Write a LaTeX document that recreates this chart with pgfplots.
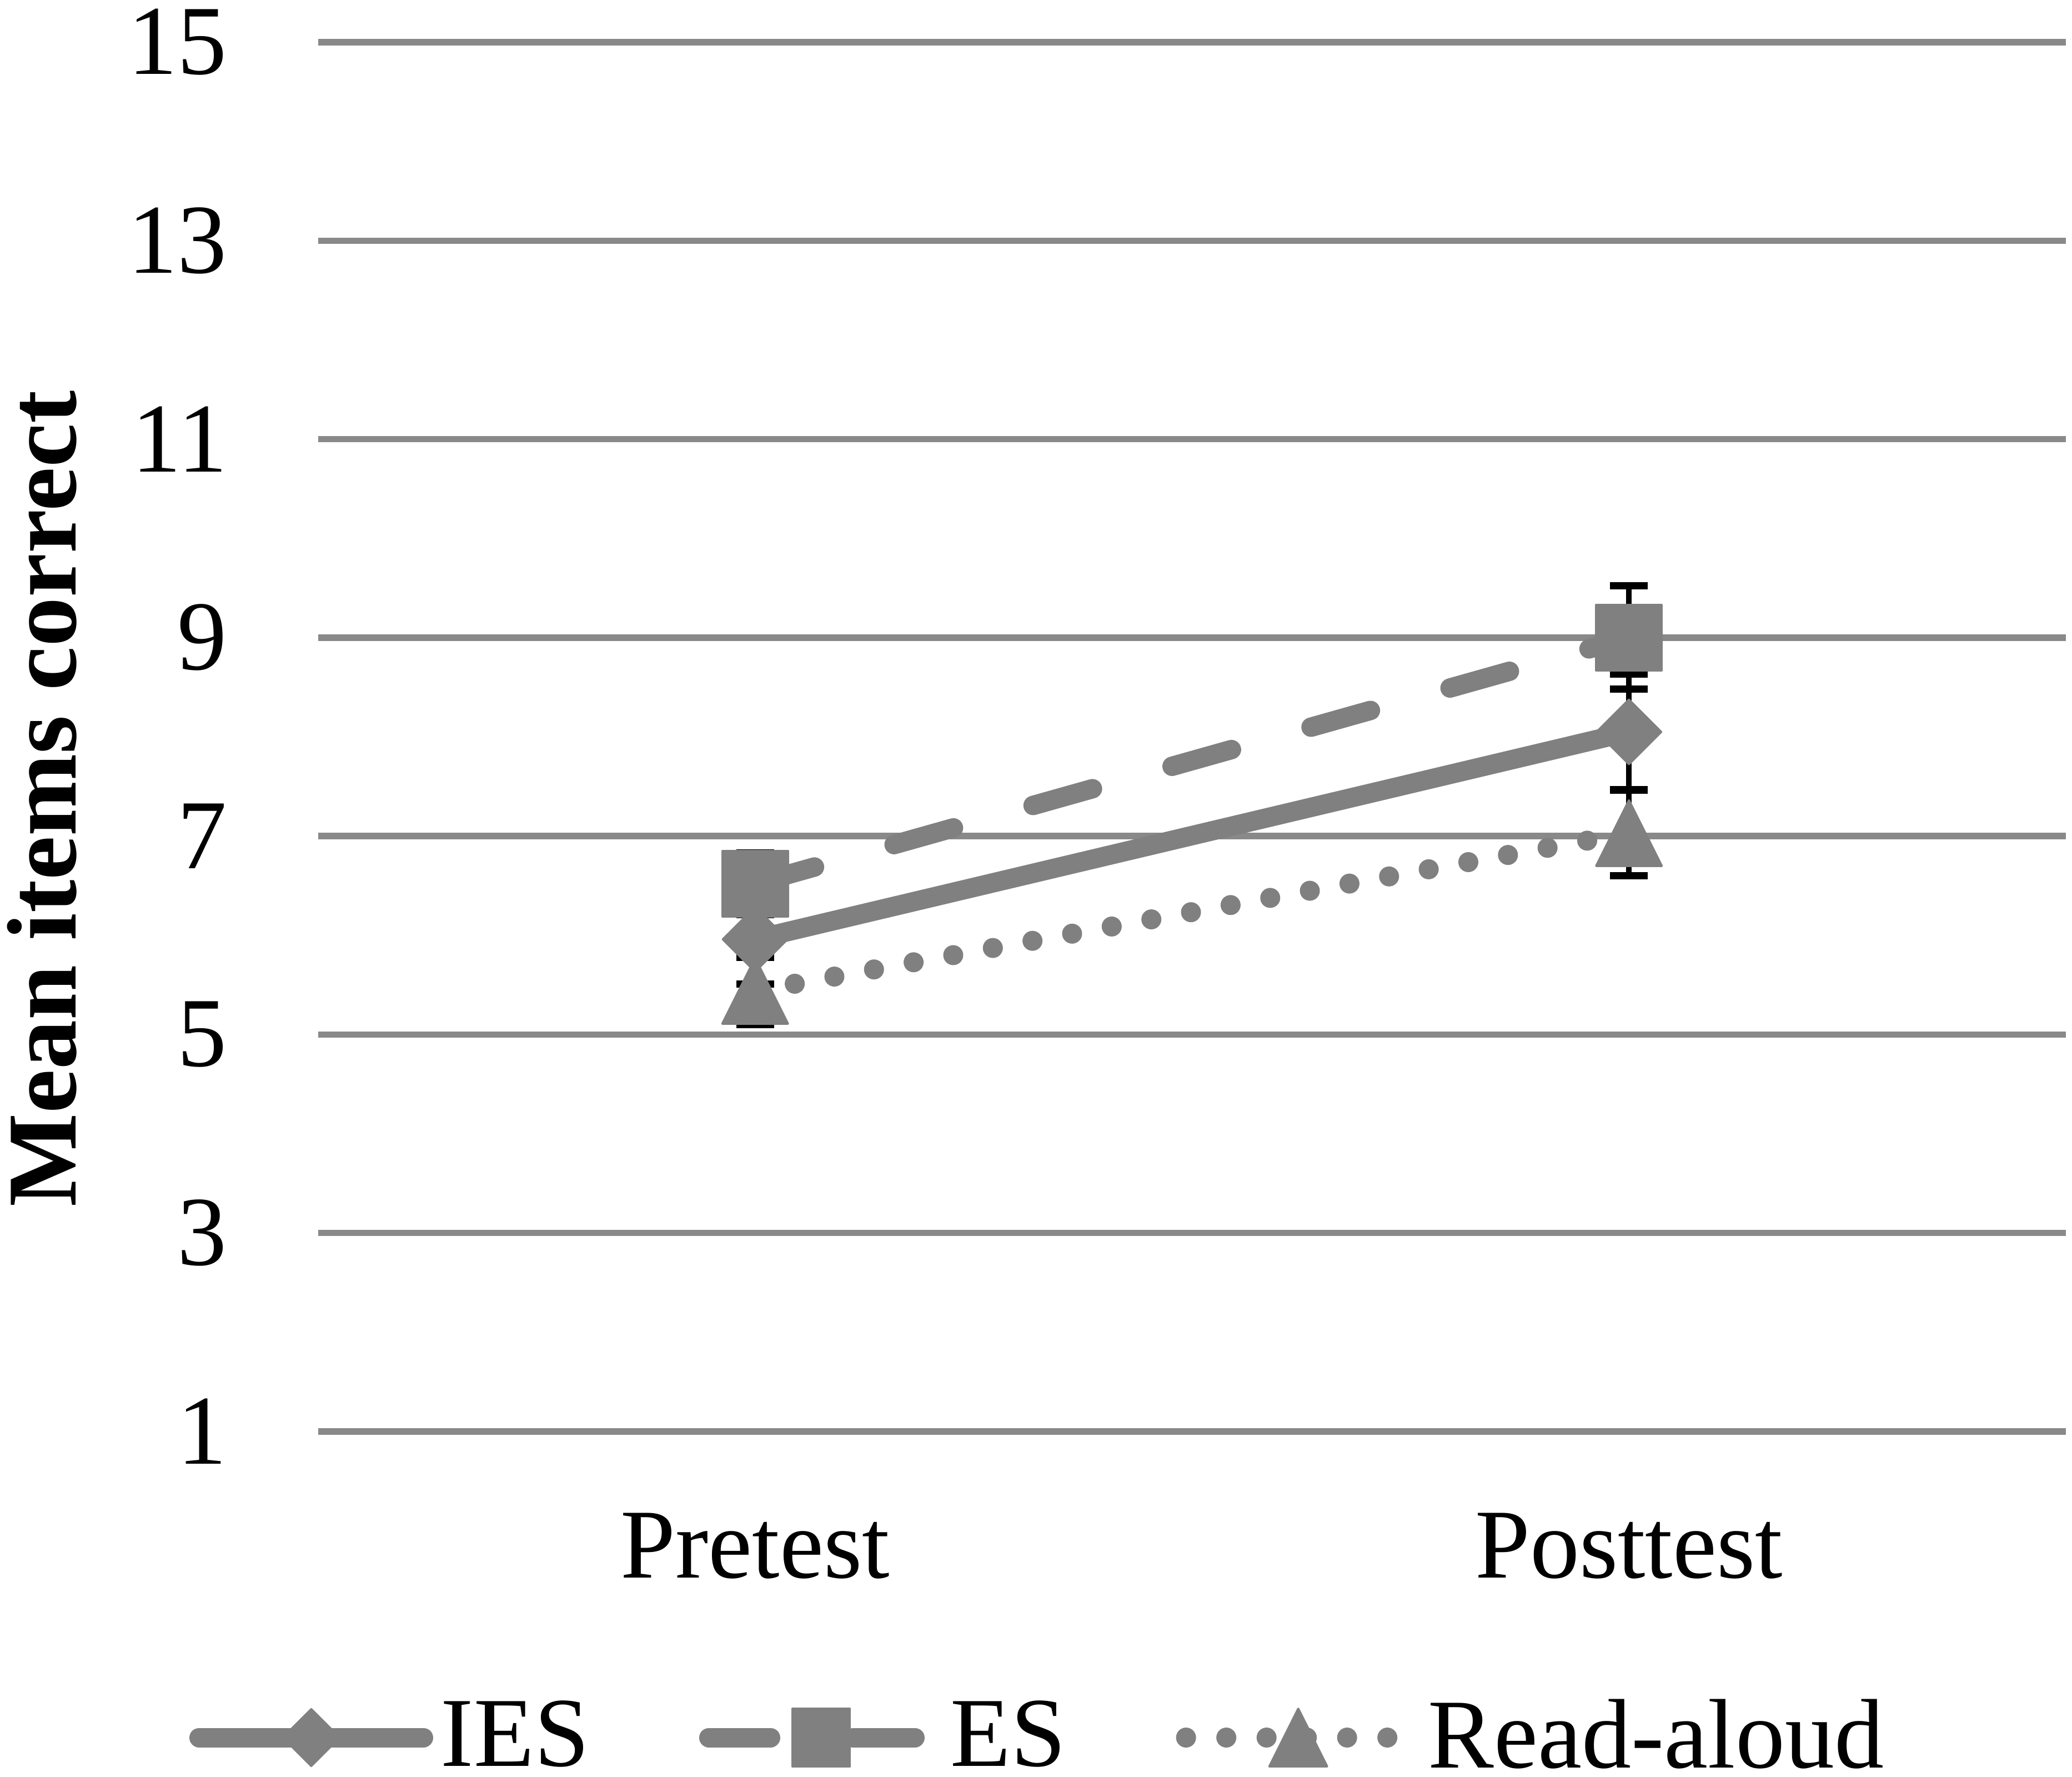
\documentclass[border=0pt]{standalone}
\usepackage{fontspec}
\setmainfont{Liberation Serif}
\usepackage{pgfplots}
\pgfplotsset{compat=1.18}
\definecolor{serg}{RGB}{128,128,128}
\definecolor{gridg}{RGB}{137,137,137}
\newcommand{\fs}{\fontsize{17.8}{21.4}\selectfont}
\pgfdeclareplotmark{xdiamond}{%
  \pgfpathmoveto{\pgfqpoint{0pt}{\pgfplotmarksize}}%
  \pgfpathlineto{\pgfqpoint{\pgfplotmarksize}{0pt}}%
  \pgfpathlineto{\pgfqpoint{0pt}{-\pgfplotmarksize}}%
  \pgfpathlineto{\pgfqpoint{-\pgfplotmarksize}{0pt}}%
  \pgfpathclose\pgfusepathqfillstroke}
\pgfdeclareplotmark{xtri}{%
  \pgfpathmoveto{\pgfqpoint{0pt}{\pgfplotmarksize}}%
  \pgfpathlineto{\pgfqpoint{\pgfplotmarksize}{-\pgfplotmarksize}}%
  \pgfpathlineto{\pgfqpoint{-\pgfplotmarksize}{-\pgfplotmarksize}}%
  \pgfpathclose\pgfusepathqfillstroke}
\begin{document}
\begin{tikzpicture}
\useasboundingbox (0,0) rectangle (373.1pt,319.8pt);
\begin{axis}[
  at={(57.3pt,62.1pt)}, anchor=south west,
  scale only axis, width=314.7pt, height=250.1pt,
  xmin=-0.5, xmax=1.5, ymin=1, ymax=15,
  xtick={0,1}, xticklabels={Pretest,Posttest},
  ytick={1,3,...,15},
  ymajorgrids, grid style={gridg, line width=1.15pt},
  axis line style={draw=none},
  major tick length=0pt, tick style={draw=none},
  /pgf/number format/assume math mode=true,
  tick label style={font=\fs},
  yticklabel style={anchor=east, inner sep=0pt, xshift=-16.2pt},
  xticklabel style={anchor=base, inner sep=0pt, yshift=-26.3pt},
  ylabel={Mean items correct},
  every axis y label/.style={at={(axis description cs:-0.13855,0.4554)}, rotate=90, anchor=base, font=\fs\bfseries},
  legend columns=3,
  legend cell align=left,
  legend style={at={(axis description cs:0,0)}, anchor=west, xshift=-23.4pt, yshift=-55.1pt,
    draw=none, fill=none, inner sep=0pt, font=\fs, nodes={inner sep=0pt},
    /tikz/every odd column/.append style={column sep=1.4pt},
    /tikz/every even column/.append style={column sep=19.8pt}},
  legend image code/.code={\draw[mark repeat=2, mark phase=2, #1, every mark/.append style={scale=0.88}] plot coordinates {(0pt,0pt) (20.2pt,0pt) (40.4pt,0pt)};},
]
% error bars (drawn first, below the markers)
\addplot[forget plot, draw=none, mark=none, error bars/.cd, y dir=both, y explicit,
  error bar style={draw=black, solid, line width=1.05pt},
  error mark options={rotate=90, draw=black, solid, mark size=3.4pt, line width=1.3pt}]
  coordinates {(0,5.96) +- (0,0.45) (1,8.05) +- (0,0.58)};
\addplot[forget plot, draw=none, mark=none, error bars/.cd, y dir=both, y explicit,
  error bar style={draw=black, solid, line width=1.05pt},
  error mark options={rotate=90, draw=black, solid, mark size=3.4pt, line width=1.3pt}]
  coordinates {(0,6.52) +- (0,0.31) (1,9.00) +- (0,0.52)};
\addplot[forget plot, draw=none, mark=none, error bars/.cd, y dir=both, y explicit,
  error bar style={draw=black, solid, line width=1.05pt},
  error mark options={rotate=90, draw=black, solid, mark size=3.4pt, line width=1.3pt}]
  coordinates {(0,5.44) +- (0,0.34) (1,7.03) +- (0,0.43)};
% series
\addplot[serg, line width=3.5pt, line cap=round, mark=xdiamond, mark size=5.8pt,
  mark options={solid, fill=serg, draw=serg, line width=0.4pt, line join=round}]
  coordinates {(0,5.96) (1,8.05)};
\addlegendentry{IES}
\addplot[serg, line width=3.5pt, line cap=round, dash pattern=on 11.1pt off 14.9pt, mark=square*, mark size=5.9pt,
  mark options={solid, fill=serg, draw=serg, line width=0.4pt, line join=round}]
  coordinates {(0,6.52) (1,9.00)};
\addlegendentry{ES}
\addplot[serg, line width=3.6pt, line cap=round, dash pattern=on 0pt off 7.25pt, mark=xtri, mark size=5.9pt,
  mark options={solid, fill=serg, draw=serg, line width=0.4pt, line join=round}]
  coordinates {(0,5.44) (1,7.03)};
\addlegendentry{Read-aloud}
\end{axis}
\end{tikzpicture}
\end{document}
